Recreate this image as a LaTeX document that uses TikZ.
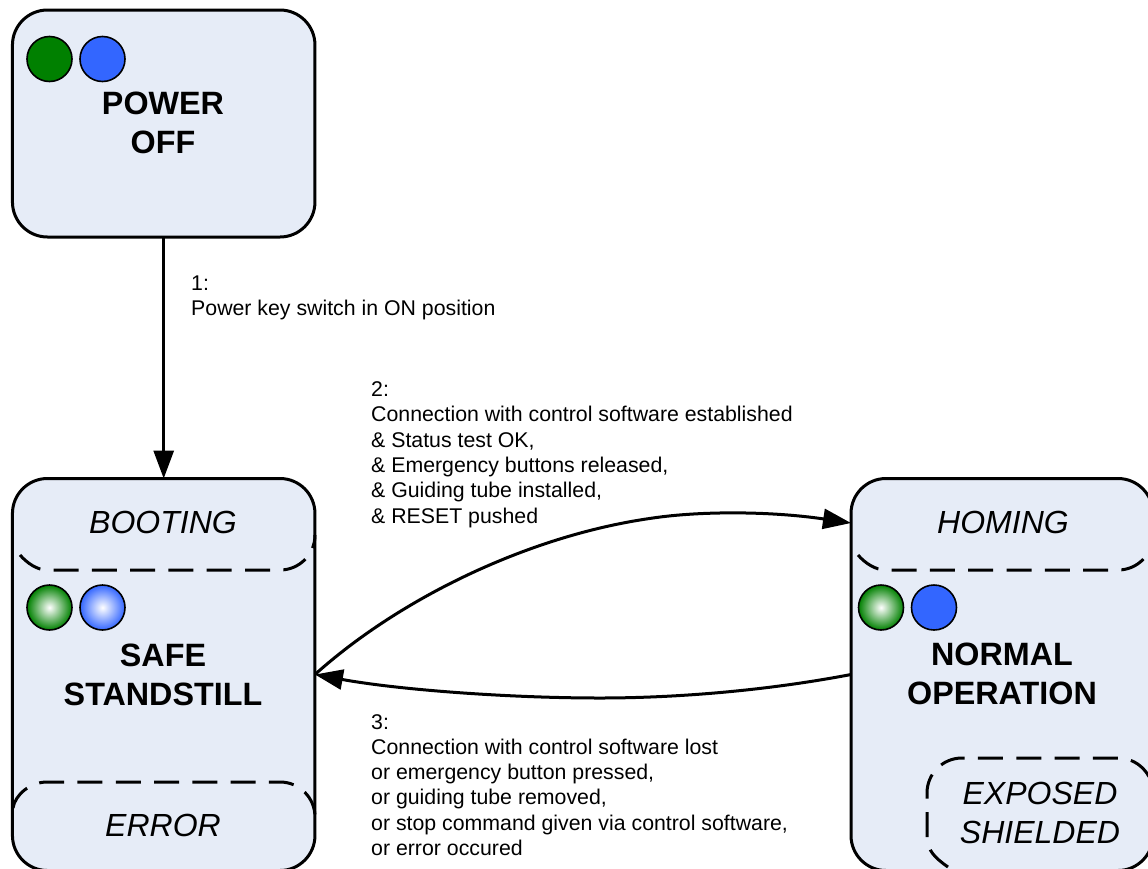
\documentclass[tikz,border=0pt]{standalone}
\usepackage{fontspec}
\setmainfont{Liberation Sans}
\usetikzlibrary{arrows.meta}
\definecolor{boxfill}{HTML}{E6ECF7}
\definecolor{ledgreen}{HTML}{008000}
\definecolor{ledblue}{HTML}{3366FF}
\tikzset{
  statebox/.style={draw=black,fill=boxfill,line width=3pt,rounded corners=35pt,inner sep=0pt,outer sep=0pt,minimum width=302.5pt},
  statetitle/.style={font=\fontsize{32.3}{39}\selectfont\bfseries,align=center,inner sep=0pt},
  substate/.style={font=\fontsize{32}{39}\selectfont\itshape,align=center,inner sep=0pt},
  note/.style={font=\fontsize{21.3}{25.3}\selectfont,align=left,anchor=north west,inner sep=0pt},
  led/.style={circle,draw=black,line width=1.6pt,minimum size=45pt,inner sep=0pt,outer sep=0pt},
  ledgreenflat/.style={led,fill=ledgreen},
  ledblueflat/.style={led,fill=ledblue},
  ledgreenglow/.style={led,inner color=white,outer color=ledgreen},
  ledblueglow/.style={led,inner color=white,outer color=ledblue},
  dashregion/.style={draw=black,line width=3pt,dash pattern=on 25pt off 13.3pt},
  flow/.style={draw=black,line width=3pt,-{Triangle[length=28pt,width=20pt]}},
}
\begin{document}
\begin{tikzpicture}[x=1pt,y=-1pt]
\clip (0,0) rectangle (1148,868);
% state boxes
\node[statebox,minimum height=227pt] (off) at (163.7,123.5) {};
\node[statebox,minimum height=392pt] (safe) at (163.7,674.5) {};
\node[statebox,minimum height=392pt,minimum width=302pt] (normal) at (1002,674.5) {};
% dashed sub regions
\draw[dashregion] (20,555) .. controls (27,563) and (37,570) .. (47,570) -- (280,570) arc[start angle=90,end angle=0,radius=35];
\draw[dashregion] (13,808) .. controls (15,795) and (30,782) .. (47,782) -- (280,782) arc[start angle=-90,end angle=0,radius=35];
\draw[dashregion] (858,555) .. controls (865,563) and (875,570) .. (886,570) -- (1118,570) arc[start angle=90,end angle=0,radius=35];
\draw[dashregion] (948,867) .. controls (935,858) and (927,850) .. (927,837) -- (927,793) arc[start angle=180,end angle=270,radius=35] -- (1118,758) arc[start angle=-90,end angle=0,radius=35];
% lights
\node[ledgreenflat] (g1) at (49.5,59) {};
\node[ledblueflat] (b1) at (102.5,59) {};
\node[ledgreenglow] (g2) at (49.5,607.5) {};
\node[ledblueglow] (b2) at (102.5,607.5) {};
\node[ledgreenglow] (g3) at (881,607.5) {};
\node[ledblueflat] (b3) at (934,607.5) {};
% texts
\node[statetitle] (toff) at (163,123) {POWER\\OFF};
\node[statetitle] (tsafe) at (163,675) {SAFE\\STANDSTILL};
\node[statetitle] (tnormal) at (1002,674) {NORMAL\\OPERATION};
\node[substate] (tboot) at (163,522) {BOOTING};
\node[substate] (terr) at (163,825) {ERROR};
\node[substate] (thome) at (1003,522) {HOMING};
\node[substate] (texp) at (1040,813) {EXPOSED\\SHIELDED};
\node[note] (n1) at (191,275.5) {1:\\Power key switch in ON position};
\node[note] (n2) at (371,381.5) {2:\\Connection with control software established\\\& Status test OK,\\\& Emergency buttons released,\\\& Guiding tube installed,\\\& RESET pushed};
\node[note] (n3) at (371,714) {3:\\Connection with control software lost\\or emergency button pressed,\\or guiding tube removed,\\or stop command given via control software,\\or error occured};
% connectors
\coordinate (hin) at (851,523);
\draw[flow] (off.south) -- (safe.north);
\draw[flow] (safe.east) .. controls (400,598) and (530,535) .. (653,518) .. controls (700,511) and (770,511) .. (hin);
\draw[flow] (normal.west) .. controls (770,690) and (680,698) .. (600,698) .. controls (510,698) and (400,690) .. (safe.east);
\end{tikzpicture}
\end{document}
